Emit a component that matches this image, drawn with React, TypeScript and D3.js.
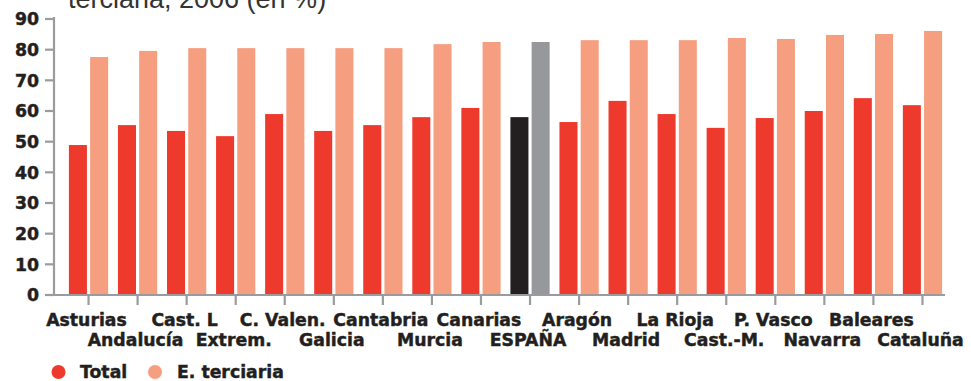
import React from "react";
import * as d3 from "d3";

const categories = [
  "Asturias", "Andalucía", "Cast. L", "Extrem.", "C. Valen.", "Galicia",
  "Cantabria", "Murcia", "Canarias", "ESPAÑA", "Aragón", "Madrid",
  "La Rioja", "Cast.-M.", "P. Vasco", "Navarra", "Baleares", "Cataluña",
];
const totalValues = [
  48.9, 55.4, 53.5, 51.8, 59.0, 53.5, 55.4, 58.0, 61.0, 58.0,
  56.4, 63.3, 59.0, 54.5, 57.7, 60.0, 64.2, 61.9,
];
const terciariaValues = [
  77.6, 79.6, 80.5, 80.5, 80.5, 80.5, 80.5, 81.8, 82.5, 82.5,
  83.1, 83.1, 83.1, 83.8, 83.5, 84.8, 85.1, 86.1,
];
const yTicks = [0, 10, 20, 30, 40, 50, 60, 70, 80, 90];
const seriesKeys = ["total", "terciaria"];
const highlight = "ESPAÑA";

const W = 971;
const H = 381;
const RED = "#ee3a2c";
const SALMON = "#f59e80";
const DARK = "#231f20";
const GREY = "#97989b";
const AXIS = "#9a9b9e";
const FONT = "'DejaVu Sans', sans-serif";

// heavy label style: bold plus a thin outline for a blacker weight
const heavy = {
  fontSize: 17.3,
  fontWeight: "bold" as const,
  fill: DARK,
  stroke: DARK,
  strokeWidth: 0.45,
};

export default function App() {
  const y = d3.scaleLinear().domain([0, 90]).range([295, 19]);
  const x0 = d3
    .scaleBand<string>()
    .domain(categories)
    .range([64, 947])
    .paddingInner(0.2)
    .paddingOuter(0.1);
  const x1 = d3
    .scaleBand<string>()
    .domain(seriesKeys)
    .range([0, x0.bandwidth()])
    .paddingInner(0.15);

  const axisX = 54;
  const baseY = y(0);

  return (
    <svg
      width={W}
      height={H}
      style={{ position: "absolute", left: 0, top: 0, background: "#fff" }}
      fontFamily={FONT}
    >
      <text
        x={68}
        y={7.5}
        fontFamily="'Liberation Sans', Arial, sans-serif"
        fontSize={27}
        fill="#333"
      >
        terciaria, 2006 (en %)
      </text>

      {/* bars */}
      {categories.map((c, i) => {
        const bx = x0(c)!;
        const isEs = c === highlight;
        return (
          <g key={c}>
            <rect
              x={bx + x1("total")!}
              y={y(totalValues[i])}
              width={x1.bandwidth()}
              height={baseY - y(totalValues[i])}
              fill={isEs ? DARK : RED}
            />
            <rect
              x={bx + x1("terciaria")!}
              y={y(terciariaValues[i])}
              width={x1.bandwidth()}
              height={baseY - y(terciariaValues[i])}
              fill={isEs ? GREY : SALMON}
            />
          </g>
        );
      })}

      {/* y axis */}
      <line x1={axisX} x2={axisX} y1={17} y2={baseY} stroke={AXIS} strokeWidth={2.2} />
      {yTicks.map((t) => (
        <g key={t}>
          <line x1={45} x2={axisX} y1={y(t)} y2={y(t)} stroke={AXIS} strokeWidth={2.2} />
          <text x={39} y={y(t)} dy="0.36em" textAnchor="end" {...heavy}>
            {t}
          </text>
        </g>
      ))}

      {/* x axis */}
      <line x1={45} x2={945} y1={baseY} y2={baseY} stroke={AXIS} strokeWidth={2.2} />
      {categories.map((c, i) => {
        const cx = x0(c)! + x0.bandwidth() / 2;
        return (
          <g key={c}>
            <line x1={cx} x2={cx} y1={baseY} y2={baseY + 10} stroke={AXIS} strokeWidth={2.2} />
            <text
              x={cx - 2}
              y={i % 2 === 0 ? 326 : 346}
              textAnchor="middle"
              {...heavy}
            >
              {c}
            </text>
          </g>
        );
      })}

      {/* legend */}
      <circle cx={58.5} cy={372} r={7} fill={RED} />
      <text x={80} y={378} {...heavy}>
        Total
      </text>
      <circle cx={155} cy={372} r={7} fill={SALMON} />
      <text x={177} y={378} {...heavy}>
        E. terciaria
      </text>
    </svg>
  );
}
